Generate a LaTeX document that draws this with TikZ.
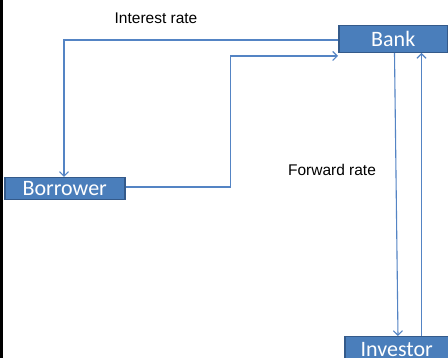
\documentclass[tikz,border=0pt]{standalone}
\usepackage{fontspec}
\setmainfont{Liberation Sans}
\newfontfamily\boxfont{Carlito}
\usetikzlibrary{arrows.meta}
\definecolor{boxfill}{RGB}{74,126,187}
\definecolor{boxline}{RGB}{52,90,138}
\definecolor{flow}{RGB}{84,132,196}
\tikzset{
  entity/.style={draw=boxline, line width=1.5pt, fill=boxfill, text=white,
    font=\boxfont\fontsize{22}{22}\selectfont, inner sep=0pt, anchor=north west},
  flowline/.style={draw=flow, line width=1.1pt, -{Straight Barb[length=4.5pt,width=9pt,line width=1.1pt]}},
  lbl/.style={font=\fontsize{15.5}{15.5}\selectfont, inner sep=0pt}
}
\begin{document}
\begin{tikzpicture}[x=1pt,y=-1pt]
\useasboundingbox (0,0) rectangle (448,358);
\fill[white] (0,0) rectangle (448,358);
\draw[black, line width=2.5pt] (1.5,0) -- (1.5,358);
\node[entity, minimum width=109pt, minimum height=27pt] (bank) at (338,25) {Bank};
\node[entity, minimum width=120pt, minimum height=22pt] (borrower) at (4,177) {Borrower};
\node[entity, minimum width=104pt, minimum height=26pt] (investor) at (344,336) {Investor};
\node[lbl] (ir) at (156,18.5) {Interest rate};
\node[lbl] (fr) at (332,170) {Forward rate};
\coordinate (bankL) at (bank.west |- 0,40);
\coordinate (bankL2) at (bank.west |- 0,56);
\draw[flowline] (bankL) -- (64,40) -- (64,177);
\draw[flowline] (borrower.east |- 0,187) -- (230.5,187) -- (230.5,56) -- (bankL2);
\draw[flowline] (394.5,53) -- (398,336);
\draw[flowline] (421.5,336) -- (421.5,53);
\end{tikzpicture}
\end{document}
